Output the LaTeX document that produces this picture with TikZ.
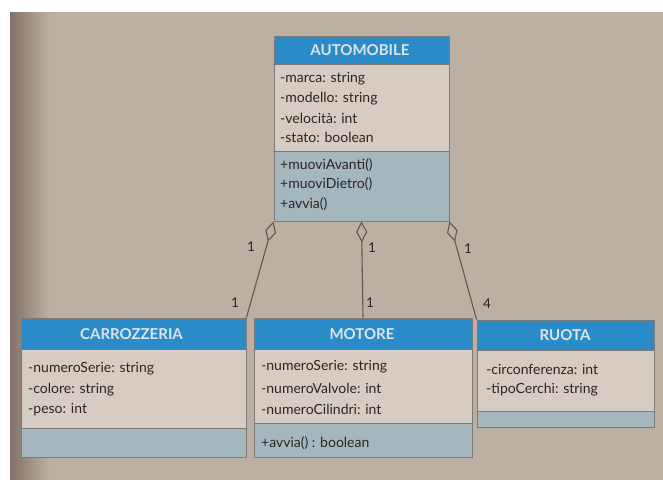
\documentclass[tikz,border=0pt]{standalone}
\usepackage{fontspec}
\setmainfont{Lato}
\usetikzlibrary{arrows.meta,fit}

\definecolor{paper}{RGB}{188,176,164}
\definecolor{paperdark}{RGB}{130,114,104}
\definecolor{attrfill}{RGB}{214,204,195}
\definecolor{methfill}{RGB}{164,182,190}
\definecolor{hdrfill}{RGB}{42,139,200}
\definecolor{hdrtext}{RGB}{220,228,236}
\definecolor{framecol}{RGB}{126,122,118}
\definecolor{inkcol}{RGB}{44,37,34}
\definecolor{linkcol}{RGB}{100,88,80}

\tikzset{
  frame/.style={draw=framecol, line width=0.9pt, inner sep=0pt},
  sep/.style={draw=framecol, line width=0.8pt},
  hdr/.style={font=\fontsize{15}{17}\selectfont\bfseries, text=hdrtext, inner sep=0pt},
  member/.style={font=\fontsize{14}{16}\selectfont, text=inkcol, anchor=west, inner sep=0pt},
  mult/.style={font=\fontsize{13.5}{15}\selectfont, text=inkcol, inner sep=0pt},
  agg/.style={draw=linkcol, line width=1.1pt,
    {Diamond[open, length=21pt, width=11pt, line width=1.1pt]}-}
}

\begin{document}
\begin{tikzpicture}[x=1pt, y=-1pt]
\useasboundingbox (0,0) rectangle (663,479);

% page
\fill[white] (-2,-2) rectangle (665,481);
\fill[paper] (10,12) rectangle (665,481);
\shade[left color=paperdark, right color=paper] (10,12) rectangle (50,481);

% ---------- AUTOMOBILE ----------
\fill[attrfill] (274,36) rectangle (449,221);
\fill[hdrfill] (274,36) rectangle (449,64);
\fill[methfill] (274,151) rectangle (449,221);
\draw[sep] (274,64) -- (449,64) (274,151) -- (449,151);
\node[frame, fit={(274,36) (449,221)}] (auto) {};
\node[hdr] (autoT) at (360,50.5) {AUTOMOBILE};
\node[member] (a1) at (280,79) {-marca: string};
\node[member] (a2) at (280,98.5) {-modello: string};
\node[member] (a3) at (280,118) {-velocità: int};
\node[member] (a4) at (280,137.5) {-stato: boolean};
\node[member] (m1) at (280,165) {+muoviAvanti()};
\node[member] (m2) at (280,184.5) {+muoviDietro()};
\node[member] (m3) at (280,204) {+avvia()};

% ---------- CARROZZERIA ----------
\fill[attrfill] (21,318) rectangle (246,457);
\fill[hdrfill] (21,318) rectangle (246,349);
\fill[methfill] (21,428) rectangle (246,457);
\draw[sep] (21,349) -- (246,349) (21,428) -- (246,428);
\node[frame, fit={(21,318) (246,457)}] (carro) {};
\node[hdr] (carroT) at (131.5,334) {CARROZZERIA};
\node[member] (c1) at (28,369) {-numeroSerie: string};
\node[member] (c2) at (28,389.5) {-colore: string};
\node[member] (c3) at (28,410) {-peso: int};

% ---------- MOTORE ----------
\fill[attrfill] (254,318) rectangle (472,457);
\fill[hdrfill] (254,318) rectangle (472,349);
\fill[methfill] (254,423) rectangle (472,457);
\draw[sep] (254,349) -- (472,349) (254,423) -- (472,423);
\node[frame, fit={(254,318) (472,457)}] (motore) {};
\node[hdr] (motoreT) at (362,334) {MOTORE};
\node[member] (o1) at (261,367) {-numeroSerie: string};
\node[member] (o2) at (261,388) {-numeroValvole: int};
\node[member] (o3) at (261,409) {-numeroCilindri: int};
\node[member] (o4) at (261,443) {+avvia() : boolean};

% ---------- RUOTA ----------
\fill[attrfill] (477,320) rectangle (654,427);
\fill[hdrfill] (477,320) rectangle (654,350);
\fill[methfill] (477,411) rectangle (654,427);
\draw[sep] (477,350) -- (654,350) (477,411) -- (654,411);
\node[frame, fit={(477,320) (654,427)}] (ruota) {};
\node[hdr] (ruotaT) at (565,335.5) {RUOTA};
\node[member] (r1) at (486,369) {-circonferenza: int};
\node[member] (r2) at (486,390) {-tipoCerchi: string};

% ---------- aggregations ----------
\draw[agg] (auto.south west) -- (carro.north east);
\draw[agg] (auto.south) -- (motore.north);
\draw[agg] (auto.south east) -- (ruota.north west);

% multiplicities
\node[mult] (k1) at (251,247) {1};
\node[mult] (k2) at (235,303) {1};
\node[mult] (k3) at (372,248) {1};
\node[mult] (k4) at (370,303) {1};
\node[mult] (k5) at (468,249) {1};
\node[mult] (k6) at (487,304) {4};
\end{tikzpicture}
\end{document}
